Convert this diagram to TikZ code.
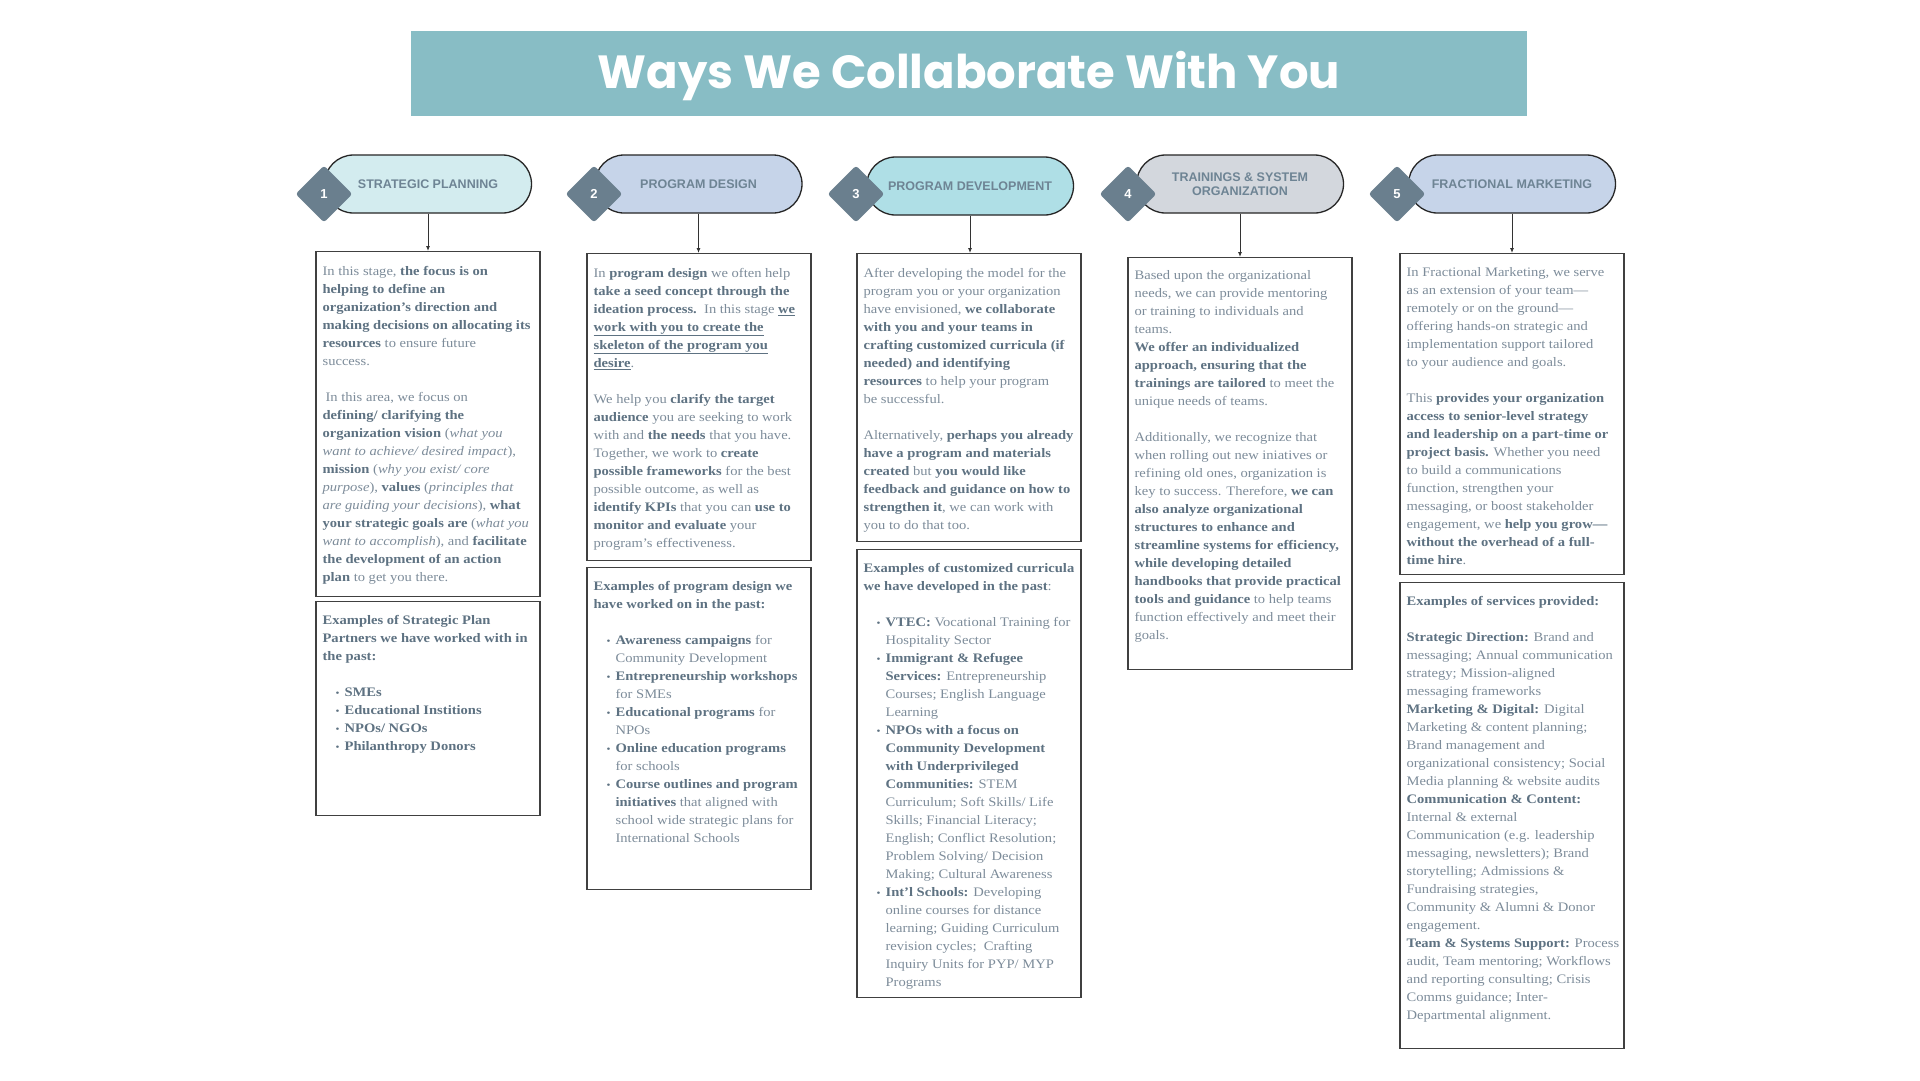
\documentclass[tikz,border=0pt]{standalone}
\usepackage{fontspec}
\usepackage{tikz}
\usetikzlibrary{arrows.meta,shapes.geometric}
\setmainfont{Liberation Serif}[FakeStretch=1.12]
\newfontfamily\headfont{Liberation Sans}
\newfontfamily\titlefont{Poppins}
\definecolor{titlebar}{HTML}{88BDC5}
\definecolor{pillA}{HTML}{D3ECEF}
\definecolor{pillB}{HTML}{C6D4E9}
\definecolor{pillC}{HTML}{AFDFE6}
\definecolor{pillD}{HTML}{D3D7DD}
\definecolor{badgeink}{HTML}{6A7F8E}
\definecolor{labelink}{HTML}{6E8494}
\definecolor{bodyink}{HTML}{7D8C9A}
\definecolor{boldink}{HTML}{5E7282}
\newcommand{\hi}[1]{{\bfseries\color{boldink}#1}}
\newcommand{\bulitem}{\hspace*{13pt}\makebox[9pt][l]{\color{boldink}\fontsize{10}{10}\selectfont\textbullet}}
\newcommand{\bulcont}{\hspace*{22pt}}

\begin{document}
\begin{tikzpicture}[x=1pt, y=-1pt, >={Latex[length=5pt,width=4pt]},
	pill/.style={draw=black!85, line width=1.3pt, fill=#1, rounded corners=29pt, minimum width=207pt, minimum height=58pt, align=center, text=labelink, font=\headfont\bfseries\fontsize{12.5}{14}\selectfont},
	badge/.style={diamond, aspect=1, minimum size=57pt, inner sep=0pt, rounded corners=3pt, fill=badgeink, text=white, font=\headfont\bfseries\fontsize{13}{13}\selectfont},
	box/.style={draw=black!75, line width=1.2pt, minimum width=224pt, inner sep=0pt, anchor=north},
	body/.style={align=left, inner sep=0pt, anchor=north west, text=bodyink, font=\fontsize{13}{18}\selectfont, execute at begin node=\strut}]
	\useasboundingbox[fill=white] (0,0) rectangle (1920,1080);
	% title
	\node[fill=titlebar, minimum width=1116pt, minimum height=85pt] (title) at (969,73.5) {};
	\node[text=white, font=\titlefont\bfseries\fontsize{46.5}{56}\selectfont] (titletext) at ([yshift=-3pt]title.center) {Ways We Collaborate With You};
	% headers
	\foreach \n/\cx/\cy/\pc/\lab in {1/428/184/pillA/{STRATEGIC PLANNING}, 2/698.5/184/pillB/{PROGRAM DESIGN}, 3/970/186/pillC/{PROGRAM DEVELOPMENT}, 4/1240/184/pillD/{TRAININGS \& SYSTEM\\ORGANIZATION}, 5/1512/184/pillB/{FRACTIONAL MARKETING}}
		\node[pill=\pc] (p\n) at (\cx,\cy) {\lab};
	\foreach \n/\dx in {1/324, 2/594, 3/856, 4/1128, 5/1397}
		\node[badge] (d\n) at (\dx,194) {\n};
	% boxes
	\node[box, minimum height=345pt] (b1a) at (428,251) {};
	\node[box, minimum height=214pt] (b1b) at (428,601) {};
	\node[box, minimum height=307pt] (b2a) at (699,253) {};
	\node[box, minimum height=322pt] (b2b) at (699,567) {};
	\node[box, minimum height=288pt] (b3a) at (969,253) {};
	\node[box, minimum height=448pt] (b3b) at (969,549) {};
	\node[box, minimum height=412pt] (b4a) at (1240,257) {};
	\node[box, minimum height=321pt] (b5a) at (1512,253) {};
	\node[box, minimum height=466pt] (b5b) at (1512,582) {};
	\foreach \n/\b in {1/b1a, 2/b2a, 3/b3a, 4/b4a, 5/b5a}
		\draw[->, black!80, line width=0.9pt] (p\n.south) -- (p\n.south |- \b.north);
	% column 1
	\node[body] (t1a) at ([xshift=7pt, yshift=-15pt]b1a.north west) {In this stage, \hi{the focus is on}\\
		\hi{helping to define an}\\
		\hi{organization's direction and}\\
		\hi{making decisions on allocating its}\\
		\hi{resources} to ensure future\\
		success.\\[18pt]
		\hspace*{3pt}In this area, we focus on\\
		\hi{defining/ clarifying the}\\
		\hi{organization vision} (\textit{what you}\\
		\textit{want to achieve/ desired impact}),\\
		\hi{mission} (\textit{why you exist/ core}\\
		\textit{purpose}), \hi{values} (\textit{principles that}\\
		\textit{are guiding your decisions}), \hi{what}\\
		\hi{your strategic goals are} (\textit{what you}\\
		\textit{want to accomplish}), and \hi{facilitate}\\
		\hi{the development of an action}\\
		\hi{plan} to get you there.};
	\node[body] (t1b) at ([xshift=7pt, yshift=-14pt]b1b.north west) {\hi{Examples of Strategic Plan}\\
		\hi{Partners we have worked with in}\\
		\hi{the past:}\\[18pt]
		\bulitem\hi{SMEs}\\
		\bulitem\hi{Educational Institions}\\
		\bulitem\hi{NPOs/ NGOs}\\
		\bulitem\hi{Philanthropy Donors}};
	% column 2
	\node[body] (t2a) at ([xshift=7pt, yshift=-15pt]b2a.north west) {In \hi{program design} we often help\\
		\hi{take a seed concept through the}\\
		\hi{ideation process.}\ \ In this stage \hi{\underline{we}}\\
		\hi{\underline{work with you to create the}}\\
		\hi{\underline{skeleton of the program you}}\\
		\hi{\underline{desire}}.\\[18pt]
		We help you \hi{clarify the target}\\
		\hi{audience} you are seeking to work\\
		with and \hi{the needs} that you have.\\
		Together, we work to \hi{create}\\
		\hi{possible frameworks} for the best\\
		possible outcome, as well as\\
		\hi{identify KPIs} that you can \hi{use to}\\
		\hi{monitor and evaluate} your\\
		program's effectiveness.};
	\node[body] (t2b) at ([xshift=7pt, yshift=-14pt]b2b.north west) {\hi{Examples of program design we}\\
		\hi{have worked on in the past:}\\[18pt]
		\bulitem\hi{Awareness campaigns} for\\
		\bulcont Community Development\\
		\bulitem\hi{Entrepreneurship workshops}\\
		\bulcont for SMEs\\
		\bulitem\hi{Educational programs} for\\
		\bulcont NPOs\\
		\bulitem\hi{Online education programs}\\
		\bulcont for schools\\
		\bulitem\hi{Course outlines and program}\\
		\bulcont\hi{initiatives} that aligned with\\
		\bulcont school wide strategic plans for\\
		\bulcont International Schools};
	% column 3
	\node[body] (t3a) at ([xshift=7pt, yshift=-15pt]b3a.north west) {After developing the model for the\\
		program you or your organization\\
		have envisioned, \hi{we collaborate}\\
		\hi{with you and your teams in}\\
		\hi{crafting customized curricula (if}\\
		\hi{needed) and identifying}\\
		\hi{resources} to help your program\\
		be successful.\\[18pt]
		Alternatively, \hi{perhaps you already}\\
		\hi{have a program and materials}\\
		\hi{created} but \hi{you would like}\\
		\hi{feedback and guidance on how to}\\
		\hi{strengthen it}, we can work with\\
		you to do that too.};
	\node[body] (t3b) at ([xshift=7pt, yshift=-14pt]b3b.north west) {\hi{Examples of customized curricula}\\
		\hi{we have developed in the past}:\\[18pt]
		\bulitem\hi{VTEC:} Vocational Training for\\
		\bulcont Hospitality Sector\\
		\bulitem\hi{Immigrant \& Refugee}\\
		\bulcont\hi{Services:} Entrepreneurship\\
		\bulcont Courses; English Language\\
		\bulcont Learning\\
		\bulitem\hi{NPOs with a focus on}\\
		\bulcont\hi{Community Development}\\
		\bulcont\hi{with Underprivileged}\\
		\bulcont\hi{Communities:} STEM\\
		\bulcont Curriculum; Soft Skills/ Life\\
		\bulcont Skills; Financial Literacy;\\
		\bulcont English; Conflict Resolution;\\
		\bulcont Problem Solving/ Decision\\
		\bulcont Making; Cultural Awareness\\
		\bulitem\hi{Int'l Schools:} Developing\\
		\bulcont online courses for distance\\
		\bulcont learning; Guiding Curriculum\\
		\bulcont revision cycles;\ \ Crafting\\
		\bulcont Inquiry Units for PYP/ MYP\\
		\bulcont Programs};
	% column 4
	\node[body] (t4a) at ([xshift=7pt, yshift=-13.5pt]b4a.north west) {Based upon the organizational\\
		needs, we can provide mentoring\\
		or training to individuals and\\
		teams.\\
		\hi{We offer an individualized}\\
		\hi{approach, ensuring that the}\\
		\hi{trainings are tailored} to meet the\\
		unique needs of teams.\\[18pt]
		Additionally, we recognize that\\
		when rolling out new iniatives or\\
		refining old ones, organization is\\
		key to success. Therefore, \hi{we can}\\
		\hi{also analyze organizational}\\
		\hi{structures to enhance and}\\
		\hi{streamline systems for efficiency,}\\
		\hi{while developing detailed}\\
		\hi{handbooks that provide practical}\\
		\hi{tools and guidance} to help teams\\
		function effectively and meet their\\
		goals.};
	% column 5
	\node[body] (t5a) at ([xshift=7pt, yshift=-14pt]b5a.north west) {In Fractional Marketing, we serve\\
		as an extension of your team---\\
		remotely or on the ground---\\
		offering hands-on strategic and\\
		implementation support tailored\\
		to your audience and goals.\\[18pt]
		This \hi{provides your organization}\\
		\hi{access to senior-level strategy}\\
		\hi{and leadership on a part-time or}\\
		\hi{project basis.} Whether you need\\
		to build a communications\\
		function, strengthen your\\
		messaging, or boost stakeholder\\
		engagement, we \hi{help you grow---}\\
		\hi{without the overhead of a full-}\\
		\hi{time hire}.};
	\node[body] (t5b) at ([xshift=7pt, yshift=-14pt]b5b.north west) {\hi{Examples of services provided:}\\[18pt]
		\hi{Strategic Direction:} Brand and\\
		messaging; Annual communication\\
		strategy; Mission-aligned\\
		messaging frameworks\\
		\hi{Marketing \& Digital:} Digital\\
		Marketing \& content planning;\\
		Brand management and\\
		organizational consistency; Social\\
		Media planning \& website audits\\
		\hi{Communication \& Content:}\\
		Internal \& external\\
		Communication (e.g. leadership\\
		messaging, newsletters); Brand\\
		storytelling; Admissions \&\\
		Fundraising strategies,\\
		Community \& Alumni \& Donor\\
		engagement.\\
		\hi{Team \& Systems Support:} Process\\
		audit, Team mentoring; Workflows\\
		and reporting consulting; Crisis\\
		Comms guidance; Inter-\\
		Departmental alignment.};
\end{tikzpicture}
\end{document}
